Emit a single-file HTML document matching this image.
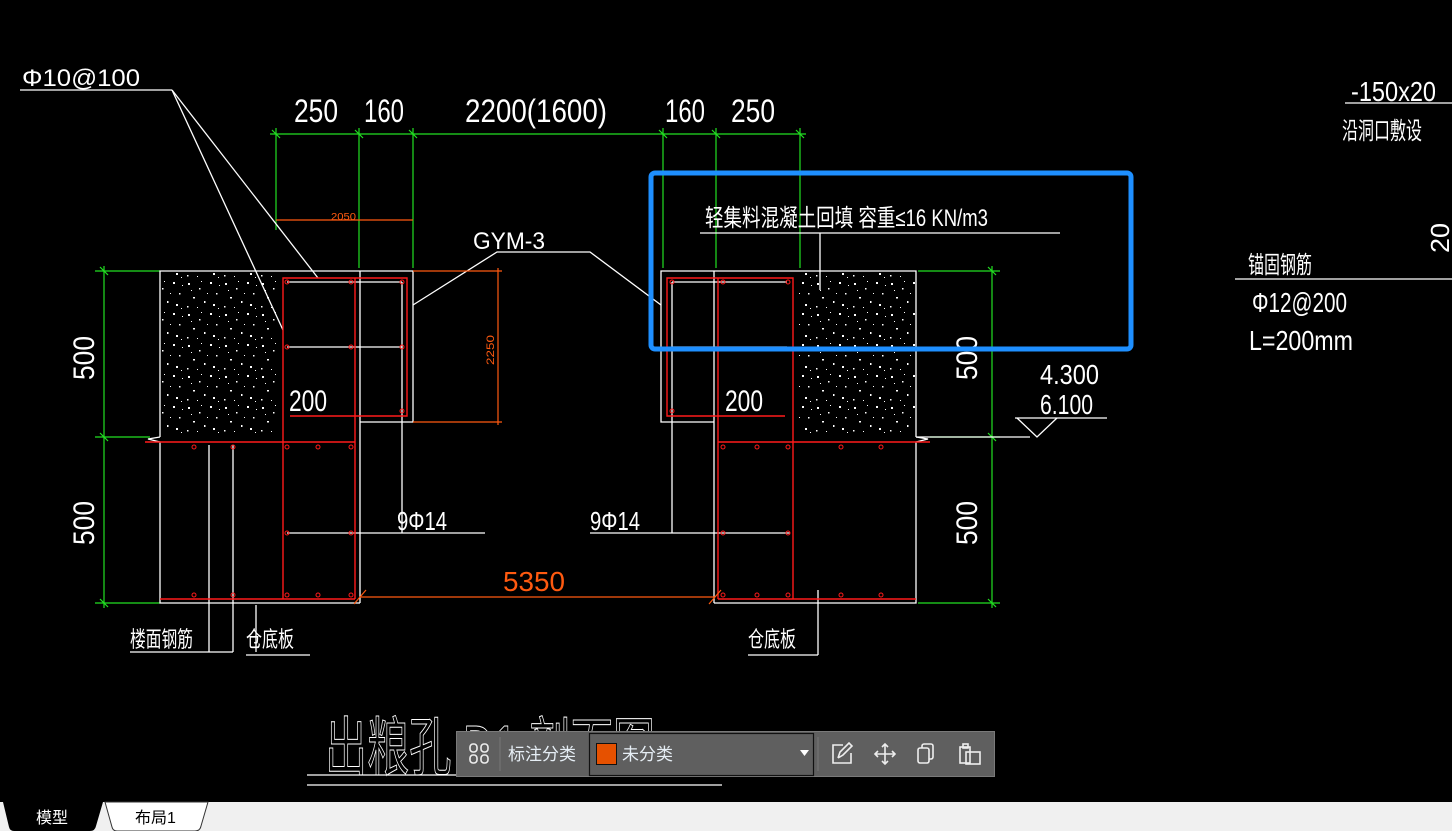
<!DOCTYPE html>
<html><head><meta charset="utf-8"><style>
html,body{margin:0;padding:0;background:#000;width:1452px;height:831px;overflow:hidden}
svg{display:block}
text{font-family:"Liberation Sans","Noto Sans CJK SC",sans-serif}
.t{fill:none;stroke:#fff;stroke-width:1.3}
</style></head><body>
<svg width="1452" height="831" viewBox="0 0 1452 831" xmlns="http://www.w3.org/2000/svg">
<defs>
<pattern id="conc" width="37" height="31" patternUnits="userSpaceOnUse">
<g fill="#fff">
<rect x="3" y="4" width="2" height="2"/><rect x="14" y="9" width="1.5" height="1.5"/><rect x="25" y="3" width="2" height="2"/>
<rect x="31" y="14" width="1.5" height="1.5"/><rect x="8" y="18" width="2" height="1.5"/><rect x="19" y="22" width="1.5" height="2"/>
<rect x="28" y="25" width="2" height="2"/><rect x="2" y="27" width="1.5" height="1.5"/><rect x="12" y="28" width="1" height="1"/>
<rect x="22" y="14" width="1" height="1"/><rect x="34" y="6" width="1" height="1"/><rect x="6" y="11" width="1" height="1"/>
<rect x="16" y="2" width="1" height="1"/><rect x="33" y="29" width="1" height="1"/>
</g></pattern>
</defs>

<rect x="161" y="272" width="116" height="164" fill="url(#conc)"/>
<rect x="798" y="272" width="117" height="164" fill="url(#conc)"/>

<g stroke="#22e022" stroke-width="1.2" fill="none">
<line x1="104" y1="266" x2="104" y2="608"/>
<line x1="95" y1="271" x2="160" y2="271"/><line x1="95" y1="437" x2="150" y2="437"/><line x1="95" y1="603" x2="160" y2="603"/>
<line x1="100" y1="267" x2="108" y2="275"/><line x1="100" y1="433" x2="108" y2="441"/><line x1="100" y1="599" x2="108" y2="607"/>
<line x1="992" y1="266" x2="992" y2="608"/>
<line x1="918" y1="271" x2="1000" y2="271"/><line x1="930" y1="437" x2="1000" y2="437"/><line x1="918" y1="603" x2="1000" y2="603"/>
<line x1="988" y1="267" x2="996" y2="275"/><line x1="988" y1="433" x2="996" y2="441"/><line x1="988" y1="599" x2="996" y2="607"/>
<line x1="270" y1="134" x2="806" y2="134"/>
<line x1="276" y1="128" x2="276" y2="230"/><line x1="359" y1="128" x2="359" y2="268"/><line x1="413" y1="128" x2="413" y2="268"/>
<line x1="663" y1="128" x2="663" y2="268"/><line x1="716" y1="128" x2="716" y2="268"/><line x1="800" y1="128" x2="800" y2="268"/>
<line x1="272" y1="130" x2="280" y2="138"/><line x1="355" y1="130" x2="363" y2="138"/><line x1="409" y1="130" x2="417" y2="138"/>
<line x1="659" y1="130" x2="667" y2="138"/><line x1="712" y1="130" x2="720" y2="138"/><line x1="796" y1="130" x2="804" y2="138"/>
</g>
<g fill="#fff" font-size="32">
<text x="294" y="122" textLength="44" lengthAdjust="spacingAndGlyphs">250</text>
<text x="364" y="122" textLength="40" lengthAdjust="spacingAndGlyphs">160</text>
<text x="465" y="122" textLength="142" lengthAdjust="spacingAndGlyphs">2200(1600)</text>
<text x="665" y="122" textLength="40" lengthAdjust="spacingAndGlyphs">160</text>
<text x="731" y="122" textLength="44" lengthAdjust="spacingAndGlyphs">250</text>
</g>

<g class="t">
<polyline points="160,437 160,271 413,271 413,422 360,422"/>
<polyline points="160,437 148,439 160,442 160,445 160,603 360,603"/>
<line x1="360" y1="271" x2="360" y2="603"/>
<line x1="402" y1="282" x2="402" y2="533"/>
<line x1="287" y1="282" x2="402" y2="282"/><line x1="287" y1="347" x2="402" y2="347"/>
<line x1="287" y1="533" x2="485" y2="533"/>
<line x1="209" y1="445" x2="209" y2="652"/><line x1="233" y1="445" x2="233" y2="652"/><line x1="256" y1="605" x2="256" y2="652"/>
<line x1="130" y1="652" x2="233" y2="652"/><line x1="246" y1="655" x2="310" y2="655"/>
<line x1="172" y1="90" x2="20" y2="90"/><line x1="172" y1="90" x2="283" y2="330"/><line x1="172" y1="90" x2="318" y2="278"/>
<polyline points="413,305 497,252 590,252 661,305"/>
<polyline points="916,437 916,271 661,271 661,422 714,422"/>
<polyline points="916,437 928,439 916,442 916,445 916,603 714,603"/>
<line x1="714" y1="271" x2="714" y2="603"/>
<line x1="672" y1="282" x2="672" y2="533"/>
<line x1="672" y1="282" x2="787" y2="282"/><line x1="672" y1="347" x2="787" y2="347"/>
<line x1="590" y1="533" x2="790" y2="533"/>
<line x1="818" y1="590" x2="818" y2="655"/><line x1="748" y1="655" x2="818" y2="655"/>
<line x1="916" y1="437" x2="1030" y2="437"/>
<line x1="700" y1="233" x2="1060" y2="233"/><line x1="820" y1="233" x2="820" y2="290"/>
<line x1="1015" y1="418" x2="1107" y2="418"/><polyline points="1017,418 1037,437 1057,418"/>
<line x1="1345" y1="103" x2="1452" y2="103"/><line x1="1235" y1="279" x2="1452" y2="279"/>
<line x1="307" y1="775" x2="722" y2="775"/><line x1="307" y1="785" x2="722" y2="785"/>
</g>

<g fill="none" stroke="#ff1a1a" stroke-width="1.4">
<polyline points="290,416 407,416 407,278 283,278 283,599"/>
<line x1="355" y1="278" x2="355" y2="599"/>
<line x1="145" y1="442" x2="355" y2="442"/><line x1="160" y1="599" x2="355" y2="599"/>
<polyline points="785,416 667,416 667,278 793,278 793,599"/>
<line x1="718" y1="278" x2="718" y2="599"/>
<line x1="718" y1="442" x2="930" y2="442"/><line x1="718" y1="599" x2="916" y2="599"/>
<g stroke-width="1">
<circle cx="194" cy="447" r="2"/><circle cx="233" cy="447" r="2"/><circle cx="287" cy="447" r="2"/><circle cx="318" cy="447" r="2"/><circle cx="351" cy="447" r="2"/>
<circle cx="194" cy="595" r="2"/><circle cx="233" cy="595" r="2"/><circle cx="287" cy="595" r="2"/><circle cx="318" cy="595" r="2"/><circle cx="351" cy="595" r="2"/>
<circle cx="287" cy="282" r="2"/><circle cx="351" cy="282" r="2"/><circle cx="402" cy="282" r="2"/><circle cx="287" cy="347" r="2"/><circle cx="351" cy="347" r="2"/><circle cx="402" cy="347" r="2"/><circle cx="402" cy="411" r="2"/><circle cx="287" cy="533" r="2"/><circle cx="351" cy="533" r="2"/>
<circle cx="723" cy="447" r="2"/><circle cx="757" cy="447" r="2"/><circle cx="788" cy="447" r="2"/><circle cx="841" cy="447" r="2"/><circle cx="881" cy="447" r="2"/>
<circle cx="723" cy="595" r="2"/><circle cx="757" cy="595" r="2"/><circle cx="788" cy="595" r="2"/><circle cx="841" cy="595" r="2"/><circle cx="881" cy="595" r="2"/>
<circle cx="672" cy="282" r="2"/><circle cx="723" cy="282" r="2"/><circle cx="788" cy="282" r="2"/><circle cx="672" cy="411" r="2"/><circle cx="723" cy="533" r="2"/><circle cx="788" cy="533" r="2"/>
</g></g>

<g stroke="#ff5a10" stroke-width="1.2" fill="none">
<line x1="413" y1="271" x2="502" y2="271"/><line x1="413" y1="422" x2="502" y2="422"/><line x1="498" y1="268" x2="498" y2="425"/>
<line x1="276" y1="220" x2="413" y2="220"/>
<line x1="360" y1="597" x2="715" y2="597"/>
<line x1="354" y1="604" x2="366" y2="590"/><line x1="709" y1="604" x2="721" y2="590"/>
</g>
<text x="0" y="0" fill="#ff5a10" font-size="11" transform="translate(494,365) rotate(-90)" textLength="30" lengthAdjust="spacingAndGlyphs">2250</text>
<text x="331" y="220" fill="#ff5a10" font-size="10" textLength="25" lengthAdjust="spacingAndGlyphs">2050</text>
<text x="503" y="591" fill="#ff5a10" font-size="28" textLength="62" lengthAdjust="spacingAndGlyphs">5350</text>

<g fill="#fff">
<text x="22" y="86" font-size="24" textLength="118" lengthAdjust="spacingAndGlyphs">Φ10@100</text>
<text x="473" y="249" font-size="24" textLength="72" lengthAdjust="spacingAndGlyphs">GYM-3</text>
<text x="289" y="411" font-size="30" textLength="38" lengthAdjust="spacingAndGlyphs">200</text>
<text x="725" y="411" font-size="30" textLength="38" lengthAdjust="spacingAndGlyphs">200</text>
<text x="397" y="530" font-size="26" textLength="50" lengthAdjust="spacingAndGlyphs">9Φ14</text>
<text x="590" y="530" font-size="26" textLength="50" lengthAdjust="spacingAndGlyphs">9Φ14</text>
<text font-size="30" transform="translate(94,380) rotate(-90)" textLength="44" lengthAdjust="spacingAndGlyphs">500</text>
<text font-size="30" transform="translate(94,545) rotate(-90)" textLength="44" lengthAdjust="spacingAndGlyphs">500</text>
<text font-size="30" transform="translate(977,380) rotate(-90)" textLength="44" lengthAdjust="spacingAndGlyphs">500</text>
<text font-size="30" transform="translate(977,545) rotate(-90)" textLength="44" lengthAdjust="spacingAndGlyphs">500</text>
<text x="705" y="226" font-size="24" textLength="283" lengthAdjust="spacingAndGlyphs">轻集料混凝土回填 容重≤16 KN/m3</text>
<text x="1040" y="384" font-size="28" textLength="59" lengthAdjust="spacingAndGlyphs">4.300</text>
<text x="1040" y="414" font-size="28" textLength="53" lengthAdjust="spacingAndGlyphs">6.100</text>
<text x="1351" y="101" font-size="28" textLength="85" lengthAdjust="spacingAndGlyphs">-150x20</text>
<text x="1342" y="139" font-size="24" textLength="80" lengthAdjust="spacingAndGlyphs">沿洞口敷设</text>
<text font-size="26" transform="translate(1449,253) rotate(-90)" textLength="30" lengthAdjust="spacingAndGlyphs">20</text>
<text x="1248" y="273" font-size="24" textLength="64" lengthAdjust="spacingAndGlyphs">锚固钢筋</text>
<text x="1252" y="312" font-size="28" textLength="95" lengthAdjust="spacingAndGlyphs">Φ12@200</text>
<text x="1249" y="350" font-size="28" textLength="104" lengthAdjust="spacingAndGlyphs">L=200mm</text>
<text x="130" y="647" font-size="22" textLength="63" lengthAdjust="spacingAndGlyphs">楼面钢筋</text>
<text x="246" y="647" font-size="22" textLength="48" lengthAdjust="spacingAndGlyphs">仓底板</text>
<text x="748" y="647" font-size="22" textLength="48" lengthAdjust="spacingAndGlyphs">仓底板</text>
</g>
<text x="325" y="770" font-size="64" textLength="330" lengthAdjust="spacingAndGlyphs" fill="none" stroke="#fff" stroke-width="1">出粮孔 D1 剖面图</text>

<rect x="651" y="173" width="480" height="176" rx="4" fill="none" stroke="#1e8fff" stroke-width="5"/>

<rect x="456.5" y="731.5" width="538" height="45" fill="#5f5f5f" stroke="#7a7a7a"/>
<g fill="none" stroke="#eee" stroke-width="1.6">
<rect x="470" y="744" width="7" height="8" rx="3"/><rect x="481" y="744" width="7" height="8" rx="3"/>
<rect x="470" y="755" width="7" height="8" rx="3"/><rect x="481" y="755" width="7" height="8" rx="3"/>
<polyline points="843,745 833,745 833,763 851,763 851,753"/><polyline points="838,758 840,752 849,743 852,746 843,755 838,758"/>
<line x1="885" y1="744" x2="885" y2="764"/><line x1="875" y1="754" x2="895" y2="754"/>
<polyline points="882,747 885,744 888,747"/><polyline points="882,761 885,764 888,761"/><polyline points="878,751 875,754 878,757"/><polyline points="892,751 895,754 892,757"/>
<rect x="918" y="748" width="11" height="15" rx="2"/><path d="M922 748 V746 a2 2 0 0 1 2 -2 h7 a2 2 0 0 1 2 2 v11 a2 2 0 0 1 -2 2 h-2"/>
<rect x="960" y="747" width="10" height="16"/><rect x="966" y="752" width="14" height="12"/><rect x="963" y="744" width="5" height="4"/>
</g>
<line x1="500" y1="737" x2="500" y2="771" stroke="#777"/>
<line x1="818" y1="737" x2="818" y2="771" stroke="#777"/>
<text x="508" y="760" font-size="17" fill="#e6eef5">标注分类</text>
<rect x="589.5" y="733.5" width="224" height="42" fill="none" stroke="#111" stroke-width="1.2"/>
<rect x="596.5" y="743.5" width="20" height="21" fill="#e65100" stroke="#111"/>
<text x="622" y="760" font-size="17" fill="#e6eef5">未分类</text>
<path d="M800 750 h9 l-4.5 6 z" fill="#fff"/>

<rect x="0" y="802" width="1452" height="29" fill="#f0f0f0"/>
<path d="M3 802 L103 802 L96 826 Q95 831 90 831 L14 831 Q10 831 9 827 Z" fill="#000"/>
<text x="36" y="823" font-size="16" fill="#fff">模型</text>
<path d="M105 802 L208 802 L201 826 Q200 831 195 831 L117 831 Q113 831 112 827 Z" fill="#fff" stroke="#333"/>
<text x="135" y="823" font-size="16" fill="#000">布局1</text>
</svg>
</body></html>
